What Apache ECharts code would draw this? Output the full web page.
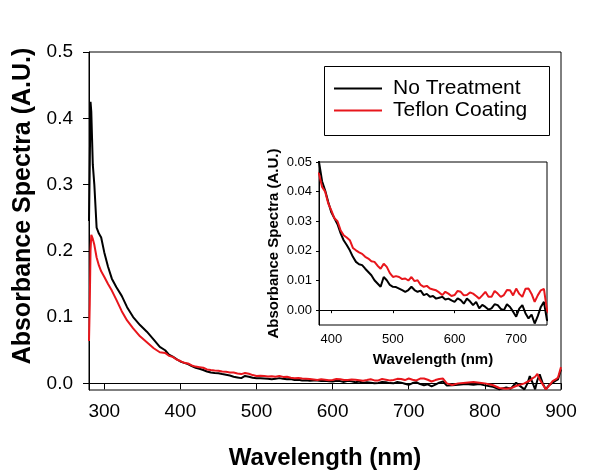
<!DOCTYPE html>
<html><head><meta charset="utf-8">
<script src="https://cdn.jsdelivr.net/npm/echarts@6/dist/echarts.min.js"></script>
<style>html,body{margin:0;padding:0;background:#fff}#c{width:607px;height:475px}</style>
</head><body><div id="c"></div>
<script>
const wavelength = [280,281,282,283,284,285,287,290,293,296,300,305,310,316,323,330,338,347,356,365,373,380,
385,390,395,400,405,410,415,420,425,430,435,440,445,450,455,460,465,470,475,480,485,490,495,500,
505,510,515,520,525,530,535,540,545,550,555,560,565,570,575,580,585,590,595,600,
605,610,615,620,625,630,635,640,645,650,655,660,665,670,675,680,685,690,695,700,
705,710,715,720,725,730,735,740,745,750,
757,765,775,785,793,800,810,819,828,834,841,845,852,856,859,863,866,869,872,876,880,884,889,893,896,900];
const noTreatment = [0.245,0.33,0.425,0.41,0.37,0.33,0.30,0.235,0.226,0.220,0.198,0.176,0.158,0.145,0.132,0.115,0.100,0.088,0.078,0.066,0.055,0.050,
0.0435,0.0404,0.0365,0.033,0.031,0.029,0.026,0.0236,0.022,0.0202,0.018,0.0163,0.0155,0.0152,0.014,0.0129,0.0118,0.0101,0.009,0.0079,0.0112,0.0101,0.0085,0.0079,
0.0078,0.0073,0.0068,0.0062,0.0068,0.0079,0.0068,0.0062,0.0066,0.0051,0.0055,0.0045,0.0048,0.0039,0.0042,0.0045,0.0036,0.0039,0.0033,0.0028,
0.0040,0.0034,0.0022,0.0039,0.0030,0.0017,0.0028,0.0006,0.0018,0.0011,0.0002,0.0006,0.0020,0.0017,0.0004,0.0000,0.0020,0.0011,-0.0005,-0.0022,
0.0005,0.0017,-0.0010,-0.0028,-0.0015,-0.0045,-0.0020,0.0011,0.0028,-0.0034,
-0.003,-0.002,-0.001,-0.002,-0.001,-0.003,-0.005,-0.009,-0.006,-0.008,0.001,-0.003,-0.009,0.000,0.011,0.000,-0.009,0.005,0.0135,0.000,-0.009,-0.003,0.001,0.004,0.006,0.021];
const teflonCoating = [0.064,0.12,0.20,0.224,0.222,0.218,0.209,0.190,0.178,0.169,0.161,0.150,0.140,0.126,0.109,0.095,0.083,0.071,0.062,0.053,0.047,0.046,
0.0416,0.040,0.036,0.0337,0.031,0.030,0.027,0.0253,0.0245,0.0236,0.021,0.0202,0.0195,0.019,0.018,0.0174,0.0165,0.0163,0.015,0.014,0.0157,0.0146,0.0125,0.0112,
0.0115,0.0112,0.0105,0.0107,0.0100,0.0112,0.0098,0.0101,0.0085,0.0079,0.0082,0.0073,0.0070,0.0067,0.0060,0.0051,0.0062,0.0056,0.0048,0.0051,
0.0065,0.0062,0.0050,0.0051,0.0060,0.0056,0.0048,0.0039,0.0050,0.0062,0.0045,0.0045,0.0065,0.0056,0.0045,0.0051,0.0068,0.0067,0.0050,0.0073,
0.0055,0.0045,0.0072,0.0073,0.0055,0.0028,0.0050,0.0067,0.0072,0.0000,
-0.0025,0.000,0.001,0.002,0.001,0.000,-0.0025,-0.007,-0.008,-0.0075,-0.004,-0.0025,0.000,0.0025,0.004,0.008,0.010,0.0145,0.006,-0.0015,-0.009,-0.004,0.0035,0.006,0.0085,0.0245];
const seriesNames = ['No Treatment','Teflon Coating'];
const mainXTicks = [300,400,500,600,700,800,900];
const mainYTicks = [0,0.1,0.2,0.3,0.4,0.5];
const insetXTicks = [400,500,600,700];
const insetYTicks = [0,0.01,0.02,0.03,0.04,0.05];

const BLACK = '#000000', RED = '#e8161c';
const FONT = 'Liberation Sans, Arial, sans-serif';
const pairs = arr => wavelength.map((w,i)=>[w,arr[i]]);

const chart = echarts.init(document.getElementById('c'), null, {renderer:'canvas'});
const axisCommon = {
  axisLine:{show:true,lineStyle:{color:'#000',width:1}},
  splitLine:{show:false}
};
chart.setOption({
  animation:false,
  backgroundColor:'#fff',
  grid:[
    {left:89,top:52,width:472,height:340,show:true,borderColor:'#000',borderWidth:1,backgroundColor:'transparent'},
    {left:319,top:162,width:228,height:163,show:true,borderColor:'#000',borderWidth:1,backgroundColor:'#fff',z:5}
  ],
  xAxis:[
    Object.assign({gridIndex:0,type:'value',min:280,max:900,
      name:'Wavelength (nm)',nameLocation:'middle',nameGap:56,
      nameTextStyle:{fontFamily:FONT,fontWeight:'bold',fontSize:24,color:'#000'},
      axisTick:{show:true,inside:false,length:6,lineStyle:{color:'#000'},customValues:mainXTicks},
      axisLabel:{fontFamily:FONT,fontSize:19,color:'#000',margin:12,customValues:mainXTicks}},axisCommon),
    Object.assign({gridIndex:1,type:'value',min:380,max:750,z:6,
      name:'Wavelength (nm)',nameLocation:'middle',nameGap:27,
      nameTextStyle:{fontFamily:FONT,fontWeight:'bold',fontSize:15,color:'#000'},
      axisTick:{show:true,length:3,lineStyle:{color:'#000'},customValues:insetXTicks},
      axisLabel:{fontFamily:FONT,fontSize:13,color:'#000',margin:8,customValues:insetXTicks}},axisCommon)
  ],
  yAxis:[
    Object.assign({gridIndex:0,type:'value',min:-0.01,max:0.5,
      name:'Absorbance Spectra (A.U.)',nameLocation:'middle',nameGap:51,
      nameTextStyle:{fontFamily:FONT,fontWeight:'bold',fontSize:25,color:'#000',padding:[0,0,0,30]},
      axisTick:{show:true,inside:false,length:6,lineStyle:{color:'#000'},customValues:mainYTicks},
      axisLabel:{fontFamily:FONT,fontSize:19,color:'#000',margin:16,customValues:mainYTicks,
        formatter:v=>v.toFixed(1)}},axisCommon),
    Object.assign({gridIndex:1,type:'value',min:-0.005,max:0.05,z:6,
      name:'Absorbance Spectra (A.U.)',nameLocation:'middle',nameGap:38,
      nameTextStyle:{fontFamily:FONT,fontWeight:'bold',fontSize:15,color:'#000'},
      axisTick:{show:true,length:3,lineStyle:{color:'#000'},customValues:insetYTicks},
      axisLabel:{fontFamily:FONT,fontSize:13,color:'#000',margin:7,customValues:insetYTicks,
        formatter:v=>v.toFixed(2)}},axisCommon)
  ],
  legend:{
    left:334,top:78,padding:0,orient:'vertical',itemWidth:48,itemHeight:2,itemGap:1,icon:'rect',
    data:seriesNames,
    textStyle:{fontFamily:FONT,fontSize:21,color:'#000',lineHeight:21,padding:[0,0,0,6]}
  },
  graphic:[{type:'rect',left:324,top:66,shape:{width:225,height:69},
    style:{fill:'#fff',stroke:'#000',lineWidth:1},z:1}],
  series:[
    {name:seriesNames[0],type:'line',xAxisIndex:0,yAxisIndex:0,data:pairs(noTreatment),showSymbol:false,
      lineStyle:{color:BLACK,width:2},itemStyle:{color:BLACK},clip:true,z:3},
    {name:seriesNames[1],type:'line',xAxisIndex:0,yAxisIndex:0,data:pairs(teflonCoating),showSymbol:false,
      lineStyle:{color:RED,width:2},itemStyle:{color:RED},clip:true,z:3},
    {name:seriesNames[0],type:'line',xAxisIndex:1,yAxisIndex:1,data:pairs(noTreatment),showSymbol:false,
      lineStyle:{color:BLACK,width:2},itemStyle:{color:BLACK},clip:true,z:7},
    {name:seriesNames[1],type:'line',xAxisIndex:1,yAxisIndex:1,data:pairs(teflonCoating),showSymbol:false,
      lineStyle:{color:RED,width:2},itemStyle:{color:RED},clip:true,z:7}
  ]
});
</script></body></html>
